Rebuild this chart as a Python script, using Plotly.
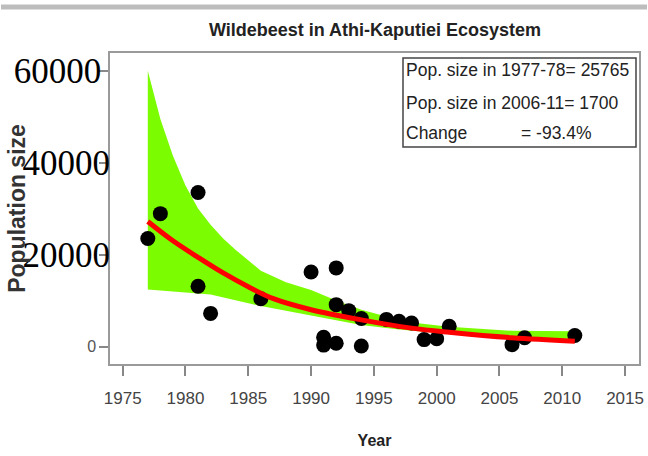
import plotly.graph_objects as go

# ---- data ----
obs_years = [1977, 1978, 1981, 1981, 1982, 1986, 1990, 1991, 1991, 1992, 1992, 1992,
             1993, 1994, 1994, 1996, 1997, 1998, 1999, 2000, 2001, 2006, 2007, 2011]
obs_pop = [23500, 28900, 33500, 13100, 7200, 10400, 16200, 2000, 300, 17100, 9100, 700,
           7800, 6100, 100, 5900, 5500, 5100, 1500, 1700, 4400, 400, 1900, 2400]

fit_years = [1977, 1979, 1981, 1983, 1985, 1987, 1990, 1994, 1998, 2001, 2006, 2011]
fit_pop = [27200, 23000, 19400, 16000, 13000, 10400, 8000, 5800, 4000, 3100, 1900, 1150]

upper_years = [1977, 1978, 1979, 1980, 1981, 1982, 1983, 1984, 1986, 1988, 1990, 1992,
               1994, 1996, 1998, 2001, 2006, 2011]
upper_pop = [60000, 49500, 41500, 35000, 30000, 26500, 23500, 21000, 16500, 14000, 12300,
             10000, 8000, 6500, 5200, 4300, 3400, 3300]

lower_years = [1977, 1982, 1986, 1990, 1994, 1997, 2001, 2006, 2011]
lower_pop = [12400, 11300, 8800, 6700, 4700, 3700, 2700, 1600, 1000]

x_ticks = [1975, 1980, 1985, 1990, 1995, 2000, 2005, 2010, 2015]
y_ticks_small = [0]
y_ticks_big = [20000, 40000, 60000]

legend_lines = ["Pop. size in 1977-78= 25765", "Pop. size in 2006-11= 1700", "Change"]
legend_change = "= -93.4%"

title_text = "Wildebeest in Athi-Kaputiei Ecosystem"

# ---- layout geometry ----
W, H = 648, 456
L, R, T, B = 110, 9, 53, 92
PW, PH = W - L - R, H - T - B

def px_x(p):
    return (p - L) / PW

def px_y(p):
    return (H - B - p) / PH

SANS = "Liberation Sans, Arial, sans-serif"
SERIF = "Liberation Serif, Times New Roman, serif"

fig = go.Figure()

band_x = upper_years + lower_years[::-1]
band_y = upper_pop + lower_pop[::-1]
fig.add_trace(go.Scatter(x=band_x, y=band_y, fill="toself", mode="lines",
                         line=dict(width=0, color="#7CFC00"),
                         fillcolor="#7CFC00", hoverinfo="skip", showlegend=False))

fig.add_trace(go.Scatter(x=obs_years, y=obs_pop, mode="markers",
                         marker=dict(color="black", size=15, line=dict(width=0)),
                         showlegend=False))

fig.add_trace(go.Scatter(x=fit_years, y=fit_pop, mode="lines",
                         line=dict(color="#FF0000", width=5, shape="spline"),
                         showlegend=False))

# invisible companion on the overlay axis so it is drawn
fig.add_trace(go.Scatter(x=obs_years, y=obs_pop, mode="markers", yaxis="y2",
                         marker=dict(opacity=0), hoverinfo="skip", showlegend=False))

YR = [-3807, 63846]
fig.update_layout(
    width=W, height=H,
    margin=dict(l=L, r=R, t=T, b=B, autoexpand=False),
    paper_bgcolor="white", plot_bgcolor="white",
    title=dict(text=title_text, x=375 / W, xref="container", xanchor="center",
               y=1 - 30 / H, yref="container", yanchor="middle",
               font=dict(family=SANS, size=18, color="#222222", weight="bold")),
    xaxis=dict(range=[1973.99, 2016.11], tickvals=x_ticks, ticktext=[str(v) for v in x_ticks],
               automargin=False,
               showgrid=False, zeroline=False, showline=True, mirror=True,
               linecolor="#9a9a9a", linewidth=1.5, ticks="outside", ticklen=10,
               tickcolor="#888888", tickwidth=1.5, ticklabelstandoff=8,
               tickfont=dict(family=SANS, size=17, color="#444444"),
               title=dict(text="Year", standoff=28,
                          font=dict(family=SANS, size=16, color="#222222", weight="bold"))),
    yaxis=dict(range=YR, tickvals=[0, 20000, 40000, 60000], ticktext=["0", "", "", ""],
               automargin=False,
               showgrid=False, zeroline=False, showline=True, mirror=True,
               linecolor="#9a9a9a", linewidth=1.5, ticks="outside", ticklen=9,
               tickcolor="#888888", tickwidth=1.5,
               tickfont=dict(family=SANS, size=16, color="#555555"),
               title=dict(text="Population size", standoff=55,
                          font=dict(family=SANS, size=23, color="#333333", weight="bold"))),
    yaxis2=dict(range=YR, overlaying="y", side="left", tickvals=y_ticks_big,
                ticktext=["20000", "40000", "60000\u00a0"], automargin=False,
                showgrid=False, zeroline=False, showline=False, ticks="",
                ticklabelstandoff=-1,
                tickfont=dict(family=SERIF, size=35, color="black")),
)

# legend box
fig.add_shape(type="rect", xref="paper", yref="paper",
              x0=px_x(403), x1=px_x(636), y0=px_y(147), y1=px_y(58),
              line=dict(color="#444444", width=1.5), fillcolor="white")

for text, ypix in zip(legend_lines, [70, 103, 133]):
    fig.add_annotation(text=text, xref="paper", yref="paper", x=px_x(404), y=px_y(ypix),
                       xanchor="left", yanchor="middle", showarrow=False,
                       font=dict(family=SANS, size=17.5, color="#222222"))
fig.add_annotation(text=legend_change, xref="paper", yref="paper", x=px_x(519), y=px_y(133),
                   xanchor="left", yanchor="middle", showarrow=False,
                   font=dict(family=SANS, size=17.5, color="#222222"))

# top separator line of the page
fig.add_shape(type="line", xref="paper", yref="paper",
              x0=px_x(1), x1=px_x(W - 1), y0=px_y(7), y1=px_y(7),
              line=dict(color="#bdbdbd", width=5))

fig.write_html("out.html", config={"displayModeBar": False},
               post_script="document.body.style.margin='0px';document.body.style.overflow='hidden';")
